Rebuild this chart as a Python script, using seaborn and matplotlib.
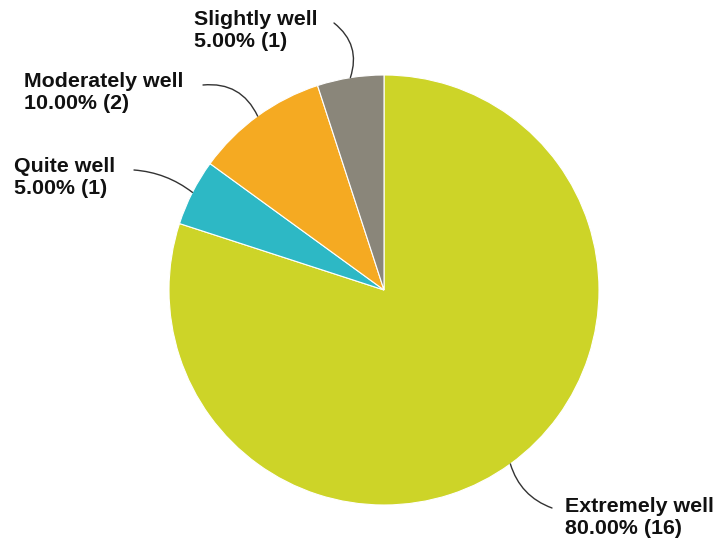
import numpy as np
import matplotlib
matplotlib.use("Agg")
import matplotlib.pyplot as plt
import seaborn as sns

sns.set_theme(style="white")
plt.rcParams['font.family'] = ['Liberation Sans', 'DejaVu Sans']

categories = ["Extremely well", "Quite well", "Moderately well", "Slightly well"]
counts = [16, 1, 2, 1]
colors = ["#CDD428", "#2DB8C5", "#F5AA22", "#8A867A"]

# label text positions (figure pixels from top-left) and leader start points
label_pos = {
    "Extremely well": (565, 497),
    "Quite well": (14, 157),
    "Moderately well": (24, 72),
    "Slightly well": (194, 10),
}
leader_start = {
    "Extremely well": (552, 508),
    "Quite well": (134, 170),
    "Moderately well": (203, 85),
    "Slightly well": (334, 23),
}
leader_rad = {
    "Extremely well": -0.25,
    "Quite well": -0.15,
    "Moderately well": -0.35,
    "Slightly well": -0.35,
}

W, H = 721, 548
fig = plt.figure(figsize=(W / 100, H / 100), dpi=100)
cx, cy, r = 384, 290, 215
ax = fig.add_axes([(cx - r) / W, (H - cy - r) / H, 2 * r / W, 2 * r / H])

wedges, _ = ax.pie(counts, colors=colors, startangle=90, counterclock=False,
                   radius=1.0, wedgeprops=dict(edgecolor="white", linewidth=0.8))
ax.set_xlim(-1, 1)
ax.set_ylim(-1, 1)
ax.set_aspect("equal")
ax.axis("off")

total = sum(counts)
for w, cat, n in zip(wedges, categories, counts):
    mid = np.deg2rad((w.theta1 + w.theta2) / 2)
    px, py = np.cos(mid) * 1.0, np.sin(mid) * 1.0
    tx, ty = label_pos[cat]
    fig.text(tx / W, 1 - ty / H, f"{cat}\n{100 * n / total:.2f}% ({n})",
             ha="left", va="top", fontsize=15.4, fontweight="bold",
             color="#111111", linespacing=1.22)
    sx, sy = leader_start[cat]
    ax.annotate("", xy=(px, py), xycoords="data",
                xytext=(sx, H - sy), textcoords="figure pixels",
                arrowprops=dict(arrowstyle="-", color="#333333", lw=1.0,
                                connectionstyle=f"arc3,rad={leader_rad[cat]}",
                                shrinkA=0, shrinkB=0))

fig.savefig("out.png", dpi=100, facecolor="white")
